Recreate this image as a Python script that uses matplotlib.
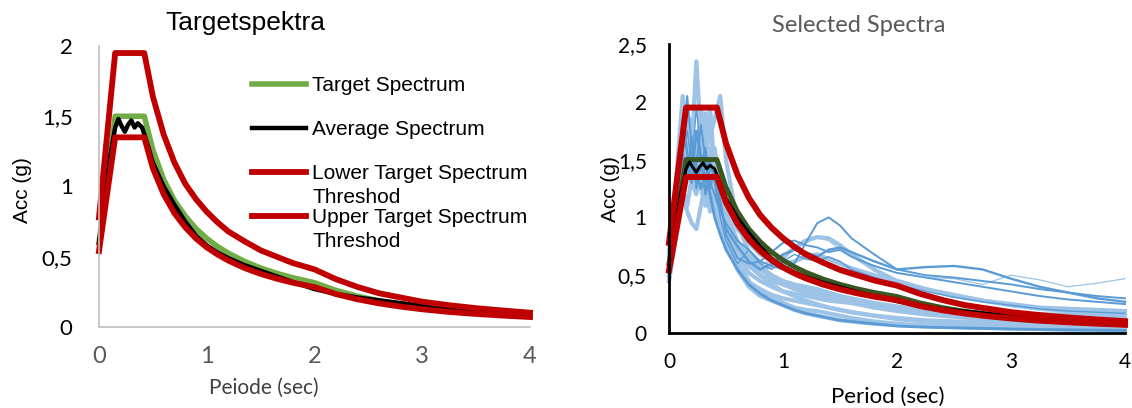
import matplotlib.pyplot as plt

plt.rcParams['font.family'] = ['Lato', 'DejaVu Sans']

# target spectrum and thresholds
periods = [0, 0.15, 0.42, 0.5, 0.6, 0.7, 0.8, 0.9, 1.0, 1.1, 1.2, 1.35, 1.5,
           1.65, 1.8, 2.0, 2.2, 2.4, 2.6, 2.8, 3.0, 3.25, 3.5, 3.75, 4.0]
target = [0.60, 1.50, 1.50, 1.26, 1.05, 0.90, 0.79, 0.70, 0.63, 0.573, 0.525, 0.467, 0.42,
          0.382, 0.35, 0.315, 0.26, 0.219, 0.186, 0.161, 0.14, 0.119, 0.103, 0.09, 0.079]
upper = [0.78, 1.95, 1.95, 1.64, 1.37, 1.17, 1.02, 0.91, 0.82, 0.745, 0.68, 0.61, 0.546,
         0.50, 0.455, 0.41, 0.34, 0.285, 0.24, 0.21, 0.18, 0.155, 0.134, 0.117, 0.102]
lower = [0.54, 1.35, 1.35, 1.13, 0.945, 0.81, 0.71, 0.63, 0.567, 0.516, 0.473, 0.42, 0.378,
         0.344, 0.315, 0.284, 0.234, 0.197, 0.168, 0.145, 0.126, 0.107, 0.093, 0.081, 0.071]

avg_periods = [0, 0.05, 0.1, 0.15, 0.18, 0.21, 0.24, 0.27, 0.30, 0.33, 0.36, 0.40, 0.45,
               0.5, 0.6, 0.7, 0.8, 0.9, 1.0, 1.1, 1.2, 1.35, 1.5, 1.65, 1.8, 2.0, 2.2,
               2.4, 2.6, 2.8, 3.0, 3.25, 3.5, 3.75, 4.0]
average = [0.60, 0.90, 1.20, 1.42, 1.48, 1.43, 1.39, 1.44, 1.47, 1.42, 1.45, 1.42, 1.30,
           1.17, 1.00, 0.87, 0.75, 0.65, 0.58, 0.53, 0.49, 0.44, 0.40, 0.36, 0.32, 0.27, 0.235,
           0.21, 0.19, 0.17, 0.15, 0.13, 0.11, 0.095, 0.085]

# selected records
rec_periods = [0, 0.04, 0.08, 0.12, 0.16, 0.2, 0.24, 0.28, 0.32, 0.36, 0.4, 0.45, 0.5, 0.6,
               0.7, 0.8, 0.9, 1.0, 1.1, 1.2, 1.3, 1.4, 1.5, 1.6, 1.8, 2.0, 2.25, 2.5, 2.75,
               3.0, 3.25, 3.5, 3.75, 4.0]
rec_e = [0.55, 0.90, 1.30, 1.70, 1.90, 1.60, 2.35, 1.70, 1.55, 1.75, 1.45, 1.30, 1.05, 0.80, 0.62, 0.50, 0.42,
         0.36, 0.32, 0.28, 0.25, 0.22, 0.20, 0.18, 0.15, 0.12, 0.10, 0.085, 0.07, 0.06, 0.05, 0.045, 0.04, 0.035]
rec_f = [0.45, 0.70, 1.00, 1.20, 1.05, 0.95, 0.90, 1.10, 1.30, 1.20, 1.05, 0.95, 0.85, 0.62, 0.45, 0.35, 0.30,
         0.26, 0.22, 0.20, 0.19, 0.17, 0.15, 0.13, 0.10, 0.08, 0.065, 0.055, 0.045, 0.04, 0.035, 0.03, 0.028, 0.025]
rec_g = [0.60, 1.00, 1.55, 2.05, 1.70, 1.85, 1.45, 1.95, 1.65, 1.50, 1.60, 1.25, 1.00, 0.78, 0.66, 0.58, 0.50,
         0.45, 0.42, 0.40, 0.38, 0.35, 0.32, 0.30, 0.26, 0.23, 0.20, 0.18, 0.16, 0.14, 0.13, 0.12, 0.11, 0.10]
rec_h = [0.50, 0.85, 1.25, 1.45, 1.65, 1.85, 1.50, 1.40, 1.90, 1.70, 1.85, 2.05, 1.50, 0.95, 0.70, 0.55, 0.48,
         0.42, 0.38, 0.35, 0.33, 0.30, 0.28, 0.26, 0.22, 0.19, 0.16, 0.14, 0.12, 0.11, 0.10, 0.09, 0.085, 0.08]
rec_i = [0.70, 1.05, 1.40, 1.65, 1.45, 1.80, 1.65, 1.40, 1.55, 1.95, 1.40, 1.15, 0.95, 0.72, 0.60, 0.55, 0.58,
         0.65, 0.74, 0.80, 0.83, 0.82, 0.76, 0.68, 0.55, 0.45, 0.38, 0.33, 0.28, 0.24, 0.21, 0.19, 0.17, 0.15]
rec_j = [0.50, 0.80, 1.15, 1.35, 1.55, 1.30, 1.20, 1.45, 1.25, 1.05, 1.15, 1.00, 0.80, 0.55, 0.40, 0.32, 0.28,
         0.24, 0.20, 0.17, 0.15, 0.13, 0.11, 0.10, 0.08, 0.07, 0.06, 0.05, 0.045, 0.04, 0.035, 0.03, 0.03, 0.028]
rec_l = [0.65, 1.00, 1.45, 1.75, 1.55, 1.35, 1.60, 1.85, 1.40, 1.30, 1.50, 1.35, 1.15, 0.90, 0.78, 0.68, 0.62,
         0.60, 0.62, 0.66, 0.68, 0.64, 0.60, 0.56, 0.50, 0.45, 0.38, 0.32, 0.28, 0.25, 0.22, 0.21, 0.20, 0.19]
rec_m = [0.55, 0.85, 1.20, 1.60, 1.95, 1.50, 1.30, 1.55, 1.70, 1.35, 1.25, 1.05, 0.88, 0.68, 0.52, 0.45, 0.40,
         0.36, 0.34, 0.32, 0.30, 0.28, 0.27, 0.26, 0.24, 0.22, 0.20, 0.19, 0.18, 0.17, 0.16, 0.16, 0.15, 0.15]
rec_o = [0.50, 0.80, 1.10, 1.30, 1.50, 1.70, 1.45, 1.25, 1.45, 1.60, 1.30, 1.10, 0.95, 0.72, 0.58, 0.50, 0.45,
         0.42, 0.40, 0.38, 0.36, 0.33, 0.30, 0.28, 0.24, 0.21, 0.18, 0.16, 0.14, 0.13, 0.12, 0.12, 0.12, 0.12]
rec_p = [0.45, 0.75, 1.05, 1.25, 1.10, 1.35, 1.55, 1.25, 1.10, 1.30, 1.15, 0.95, 0.78, 0.56, 0.44, 0.38, 0.33,
         0.30, 0.28, 0.26, 0.24, 0.22, 0.20, 0.18, 0.15, 0.13, 0.11, 0.10, 0.09, 0.08, 0.075, 0.07, 0.07, 0.065]
rec_c = [0.50, 0.80, 1.20, 1.50, 1.80, 1.40, 1.55, 1.20, 1.65, 1.40, 1.10, 0.95, 0.80, 0.70, 0.64, 0.60, 0.62,
         0.66, 0.72, 0.78, 0.82, 0.80, 0.72, 0.66, 0.58, 0.52, 0.48, 0.47, 0.42, 0.50, 0.46, 0.40, 0.43, 0.47]
rec_k = [0.55, 0.90, 1.25, 1.50, 1.35, 1.60, 1.40, 1.25, 1.35, 1.20, 1.00, 0.85, 0.72, 0.55, 0.42, 0.34, 0.28,
         0.24, 0.20, 0.17, 0.15, 0.13, 0.11, 0.10, 0.08, 0.06, 0.05, 0.045, 0.04, 0.035, 0.03, 0.028, 0.025, 0.022]
rec_a = [0.55, 0.85, 1.30, 1.55, 1.40, 1.70, 1.25, 1.45, 1.60, 1.30, 1.20, 1.05, 0.95, 0.80, 0.72, 0.62, 0.58,
         0.55, 0.60, 0.78, 0.95, 1.00, 0.93, 0.82, 0.68, 0.55, 0.50, 0.48, 0.45, 0.42, 0.38, 0.35, 0.32, 0.30]
rec_b = [0.60, 0.95, 1.40, 1.85, 1.55, 1.30, 1.75, 1.50, 1.20, 1.45, 1.35, 1.10, 0.90, 0.75, 0.62, 0.55, 0.60,
         0.68, 0.72, 0.70, 0.66, 0.72, 0.74, 0.70, 0.62, 0.55, 0.57, 0.58, 0.55, 0.47, 0.40, 0.35, 0.30, 0.27]
rec_d = [0.65, 1.00, 1.35, 1.60, 2.05, 1.60, 1.45, 1.80, 1.50, 1.25, 1.40, 1.15, 0.85, 0.65, 0.60, 0.62, 0.70,
         0.78, 0.80, 0.76, 0.74, 0.70, 0.72, 0.66, 0.58, 0.52, 0.48, 0.44, 0.40, 0.36, 0.32, 0.29, 0.27, 0.25]
rec_n = [0.60, 0.95, 1.35, 1.55, 1.75, 1.45, 1.95, 1.55, 1.35, 1.50, 1.30, 1.00, 0.80, 0.60, 0.72, 0.60, 0.55,
         0.62, 0.68, 0.64, 0.62, 0.66, 0.62, 0.55, 0.48, 0.42, 0.36, 0.31, 0.27, 0.24, 0.21, 0.19, 0.18, 0.17]

light = '#9DC3E6'
dark = '#5B9BD5'
records = [(rec_e, light, 3.0), (rec_f, light, 3.0), (rec_g, light, 3.0), (rec_h, light, 3.0),
           (rec_i, light, 3.0), (rec_j, light, 3.0), (rec_l, light, 3.0), (rec_m, light, 3.0),
           (rec_o, light, 3.0), (rec_p, light, 3.0), (rec_c, light, 0.9), (rec_k, dark, 2.0),
           (rec_a, dark, 1.4), (rec_b, dark, 1.7), (rec_d, dark, 1.4), (rec_n, dark, 1.0)]

W, H = 1132, 408
fig = plt.figure(figsize=(W / 100, H / 100), dpi=100)

# ---------------- left: Targetspektra
ax1 = fig.add_axes([99 / W, 81 / H, 431 / W, 281 / H])
ax1.plot(periods, target, color='#70AD47', lw=4.0, label='Target Spectrum', clip_on=False)
ax1.plot(avg_periods, average, color='black', lw=3.2, label='Average Spectrum', clip_on=False)
ax1.plot(periods, lower, color='#C00000', lw=4.2, label='Lower Target Spectrum', clip_on=False)
ax1.plot(periods, upper, color='#C00000', lw=4.2, label='Upper Target Spectrum', clip_on=False)
ax1.set_xlim(0, 4)
ax1.set_ylim(0, 2)
ax1.set_xticks([0, 1, 2, 3, 4], ['0', '1', '2', '3', '4'])
ax1.set_yticks([0, 0.5, 1, 1.5, 2], ['0', '0,5', '1', '1,5', '2'])
ax1.tick_params(axis='x', length=0, pad=14, labelsize=17, labelcolor='#595959')
ax1.tick_params(axis='y', length=0, pad=19, labelsize=16)
for s in ['top', 'right']:
    ax1.spines[s].set_visible(False)
for s in ['left', 'bottom']:
    ax1.spines[s].set_color('#BFBFBF')
    ax1.spines[s].set_linewidth(1.2)

leg = ax1.legend(loc='upper left', bbox_to_anchor=(252 / W, 1 - 76 / H),
                 bbox_transform=fig.transFigure, frameon=False, borderaxespad=0,
                 borderpad=0, handlelength=2.6, handletextpad=0.3, labelspacing=1.2,
                 prop={'family': 'Liberation Sans', 'size': 15})

fig.text(245 / W, 1 - 23 / H, 'Targetspektra', ha='center', va='center',
         family='Liberation Sans', fontsize=19)
fig.text(264 / W, 1 - 388 / H, 'Peiode (sec)', ha='center', va='center',
         fontsize=15, color='#404040')
fig.text(22 / W, 1 - 190 / H, 'Acc (g)', ha='center', va='center', rotation=90,
         family='Liberation Sans', fontsize=15)

# ---------------- right: Selected Spectra
ax2 = fig.add_axes([669 / W, 75 / H, 456 / W, 289 / H])
for vals, col, lw in records:
    ax2.plot(rec_periods, vals, color=col, lw=lw, clip_on=False)
ax2.plot(periods, target, color='#385723', lw=3.6, clip_on=False)
ax2.plot(avg_periods, average, color='black', lw=2.2, clip_on=False)
ax2.plot(periods, lower, color='#C00000', lw=4.3, clip_on=False)
ax2.plot(periods, upper, color='#C00000', lw=4.3, clip_on=False)
ax2.set_xlim(0, 4)
ax2.set_ylim(0, 2.5)
ax2.set_xticks([0, 1, 2, 3, 4], ['0', '1', '2', '3', '4'])
ax2.set_yticks([0, 0.5, 1, 1.5, 2, 2.5], ['0', '0,5', '1', '1,5', '2', '2,5'])
ax2.tick_params(axis='x', length=0, pad=14, labelsize=15)
ax2.tick_params(axis='y', length=0, pad=16, labelsize=15)
for s in ['top', 'right']:
    ax2.spines[s].set_visible(False)
for s in ['left', 'bottom']:
    ax2.spines[s].set_color('black')
    ax2.spines[s].set_linewidth(2.0)

fig.text(859 / W, 1 - 26 / H, 'Selected Spectra', ha='center', va='center',
         fontsize=17, color='#595959')
fig.text(888 / W, 1 - 397 / H, 'Period (sec)', ha='center', va='center', fontsize=16)
fig.text(610 / W, 1 - 189 / H, 'Acc (g)', ha='center', va='center', rotation=90,
         family='Liberation Sans', fontsize=15)

# second line of the two threshold labels
fig.canvas.draw()
for t in leg.get_texts()[2:]:
    bb = t.get_window_extent()
    fig.text(bb.x0 / W, (bb.y0 - 24) / H, 'Threshod', ha='left', va='bottom',
             family='Liberation Sans', fontsize=15)

fig.savefig('out.png', dpi=100)
